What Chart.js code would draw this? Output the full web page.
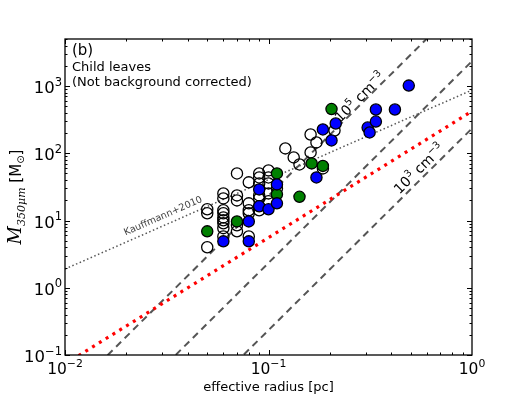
<!DOCTYPE html>
<html>
<head>
<meta charset="utf-8">
<script src="https://cdn.jsdelivr.net/npm/chart.js@4.4.0/dist/chart.umd.min.js"></script>
<style>
  html, body { margin: 0; padding: 0; background: #fff; }
</style>
</head>
<body>
<canvas id="chart" width="526" height="395"></canvas>
<script>
// all child leaves (open circles)
const openRadius = [0.05, 0.05, 0.05,
  0.06, 0.06, 0.06, 0.06, 0.06, 0.06, 0.06, 0.06, 0.06,
  0.07, 0.07, 0.07, 0.07, 0.07,
  0.08, 0.08, 0.08, 0.08, 0.08,
  0.09, 0.09, 0.09, 0.09, 0.09, 0.09,
  0.10, 0.10, 0.10, 0.10, 0.10,
  0.11, 0.121, 0.133, 0.142, 0.161, 0.161, 0.172, 0.185, 0.211];
const openMass = [14.7, 12.8, 4.0,
  25.3, 21.3, 14.2, 12.8, 11.1, 10.1, 9.1, 7.7, 5.8,
  50.1, 23.6, 19.9, 8.5, 6.9,
  36.9, 18.0, 14.2, 12.8, 5.8,
  50.1, 43.7, 35.6, 23.6, 21.3, 14.2,
  55.6, 43.7, 35.6, 25.3, 19.3,
  30.0, 118, 86.7, 68.2, 190, 103, 145, 59.5, 218];

// blue leaves
const blueRadius = [0.06, 0.08, 0.08, 0.09, 0.09, 0.10, 0.11, 0.11, 0.172,
  0.185, 0.204, 0.214, 0.307, 0.314, 0.337, 0.337, 0.418, 0.489];
const blueMass = [4.9, 9.7, 4.9, 29.0, 16.3, 14.7, 34.4, 18.0, 43.7,
  226, 155, 277, 241, 204, 296, 447, 447, 1014];

// green leaves
const greenRadius = [0.05, 0.07, 0.11, 0.11, 0.142, 0.163, 0.185, 0.204];
const greenMass = [6.9, 9.7, 50.1, 24.5, 22.5, 70.6, 64.8, 454];

// reference lines, values at the two ends of the x range
const lineRadius = [0.01, 1];
const dens5Mass = [0.0234, 23400];
const dens4Mass = [0.00234, 2340];
const dens3Mass = [0.000234, 234];
const kauffmannMass = [1.90, 870];
const thresholdMass = [0.0733, 422];

// axis ticks
const xTicks = [0.01, 0.1, 1];
const xTickExp = ["\u22122", "\u22121", "0"];
const yTicks = [0.1, 1, 10, 100, 1000];
const yTickExp = ["\u22121", "0", "1", "2", "3"];

const FONT = '"DejaVu Sans", "Bitstream Vera Sans", sans-serif';

const points = (xs, ys) => xs.map((x, i) => ({ x: x, y: ys[i] }));

const markerSet = (label, xs, ys, fill) => ({
  label: label,
  data: points(xs, ys),
  pointRadius: 5.6,
  pointBorderWidth: 1.3,
  pointBorderColor: "#000",
  pointBackgroundColor: fill,
  showLine: false
});

const lineSet = (label, ys, color, width, dash) => ({
  label: label,
  data: points(lineRadius, ys),
  showLine: true,
  borderColor: color,
  borderWidth: width,
  borderDash: dash,
  pointRadius: 0,
  clip: 0
});

function drawPower(ctx, x, y, base, sup, size, align) {
  const supSize = size * 0.7;
  ctx.font = size + "px " + FONT;
  const wb = ctx.measureText(base).width;
  ctx.font = supSize + "px " + FONT;
  const ws = ctx.measureText(sup).width;
  const total = wb + ws;
  let x0 = x - total / 2;
  if (align === "right") x0 = x - total;
  if (align === "left") x0 = x;
  ctx.textAlign = "left";
  ctx.textBaseline = "alphabetic";
  ctx.font = size + "px " + FONT;
  ctx.fillText(base, x0, y);
  ctx.font = supSize + "px " + FONT;
  ctx.fillText(sup, x0 + wb, y - size * 0.45);
  return total;
}

const axesPlugin = {
  id: "axesPlugin",
  afterDatasetsDraw(chart) {
    const ctx = chart.ctx;
    const { left, right, top, bottom } = chart.chartArea;
    const xs = chart.scales.x;
    const ys = chart.scales.y;
    ctx.save();

    // ticks, inward on all four sides
    ctx.strokeStyle = "#000";
    ctx.lineWidth = 1;
    ctx.beginPath();
    for (let d = -2; d < 0; d++) {
      for (let m = 1; m <= 9; m++) {
        const v = m * Math.pow(10, d);
        const px = Math.round(xs.getPixelForValue(v)) + 0.5;
        const len = m === 1 ? 5 : 2.5;
        ctx.moveTo(px, bottom); ctx.lineTo(px, bottom - len);
        ctx.moveTo(px, top); ctx.lineTo(px, top + len);
      }
    }
    for (let d = -1; d <= 3; d++) {
      for (let m = 1; m <= 9; m++) {
        const v = m * Math.pow(10, d);
        if (v > ys.max) break;
        const py = Math.round(ys.getPixelForValue(v)) + 0.5;
        const len = m === 1 ? 5 : 2.5;
        ctx.moveTo(left, py); ctx.lineTo(left + len, py);
        ctx.moveTo(right, py); ctx.lineTo(right - len, py);
      }
    }
    ctx.stroke();

    // frame
    ctx.lineWidth = 1.3;
    ctx.strokeRect(left, top, right - left, bottom - top);

    // tick labels
    ctx.fillStyle = "#000";
    xTicks.forEach((v, i) => {
      drawPower(ctx, xs.getPixelForValue(v), bottom + 19, "10", xTickExp[i], 15.5, "center");
    });
    yTicks.forEach((v, i) => {
      drawPower(ctx, left - 3, ys.getPixelForValue(v) + 7, "10", yTickExp[i], 16.5, "right");
    });

    // x axis title
    ctx.font = "13px " + FONT;
    ctx.textAlign = "center";
    ctx.textBaseline = "alphabetic";
    ctx.fillText("effective radius [pc]", (left + right) / 2, 391);

    // y axis title
    ctx.save();
    ctx.translate(21, (top + bottom) / 2);
    ctx.rotate(-Math.PI / 2);
    const parts = [
      { t: "M", f: "italic 18px \"DejaVu Serif\", serif", dy: 0 },
      { t: "350\u03bcm", f: "italic 11px \"DejaVu Serif\", serif", dy: 4 },
      { t: " [M", f: "15px " + FONT, dy: 0 },
      { t: "\u2299", f: "10px " + FONT, dy: 3 },
      { t: "]", f: "15px " + FONT, dy: 0 }
    ];
    let tw = 0;
    parts.forEach(p => { ctx.font = p.f; p.w = ctx.measureText(p.t).width; tw += p.w; });
    let cx = -tw / 2;
    ctx.textAlign = "left";
    parts.forEach(p => { ctx.font = p.f; ctx.fillText(p.t, cx, p.dy); cx += p.w; });
    ctx.restore();

    // panel text
    ctx.textAlign = "left";
    ctx.font = "15px " + FONT;
    ctx.fillText("(b)", left + 7, 55);
    ctx.font = "13px " + FONT;
    ctx.fillText("Child leaves", left + 7, 71);
    ctx.fillText("(Not background corrected)", left + 7, 86);

    // line labels
    const angleOf = (ysArr) => {
      const x0 = xs.getPixelForValue(lineRadius[0]), x1 = xs.getPixelForValue(lineRadius[1]);
      const y0 = ys.getPixelForValue(ysArr[0]), y1 = ys.getPixelForValue(ysArr[1]);
      return Math.atan2(y1 - y0, x1 - x0);
    };

    ctx.save();
    ctx.translate(xs.getPixelForValue(0.0304), ys.getPixelForValue(11.6));
    ctx.rotate(angleOf(kauffmannMass));
    ctx.fillStyle = "#444";
    ctx.font = "9.6px " + FONT;
    ctx.textAlign = "center";
    ctx.textBaseline = "middle";
    ctx.fillText("Kauffmann+2010", 0, 0);
    ctx.restore();

    const densLabel = (r, m, exp) => {
      ctx.save();
      ctx.translate(xs.getPixelForValue(r), ys.getPixelForValue(m));
      ctx.rotate(angleOf(dens5Mass));
      ctx.fillStyle = "#000";
      ctx.font = "14px " + FONT;
      const w1 = ctx.measureText("10").width;
      ctx.font = "9.8px " + FONT;
      const w2 = ctx.measureText(exp).width;
      ctx.font = "14px " + FONT;
      const w3 = ctx.measureText(" cm").width;
      ctx.font = "9.8px " + FONT;
      const w4 = ctx.measureText("\u22123").width;
      let px = -(w1 + w2 + w3 + w4) / 2;
      ctx.textAlign = "left";
      ctx.textBaseline = "alphabetic";
      ctx.font = "14px " + FONT;
      ctx.fillText("10", px, 5); px += w1;
      ctx.font = "9.8px " + FONT;
      ctx.fillText(exp, px, -1); px += w2;
      ctx.font = "14px " + FONT;
      ctx.fillText(" cm", px, 5); px += w3;
      ctx.font = "9.8px " + FONT;
      ctx.fillText("\u22123", px, -1);
      ctx.restore();
    };
    densLabel(0.28, 690, "5");
    densLabel(0.548, 59.4, "3");

    ctx.restore();
  }
};

new Chart(document.getElementById("chart"), {
  type: "scatter",
  data: {
    datasets: [
      markerSet("blue", blueRadius, blueMass, "#0000ff"),
      markerSet("green", greenRadius, greenMass, "#008000"),
      markerSet("all", openRadius, openMass, "rgba(255,255,255,0)"),
      lineSet("Kauffmann+2010", kauffmannMass, "#555", 1.5, [1.5, 2.5]),
      lineSet("threshold", thresholdMass, "#ff0000", 3.2, [3, 5]),
      lineSet("1e5", dens5Mass, "#555", 2, [7, 5]),
      lineSet("1e4", dens4Mass, "#555", 2, [7, 5]),
      lineSet("1e3", dens3Mass, "#555", 2, [7, 5])
    ]
  },
  options: {
    responsive: false,
    animation: false,
    layout: { padding: { left: 65, right: 54, top: 39, bottom: 40 } },
    plugins: {
      legend: { display: false },
      tooltip: { enabled: false }
    },
    scales: {
      x: { type: "logarithmic", min: 0.01, max: 1, display: false },
      y: { type: "logarithmic", min: 0.1, max: 5000, display: false }
    }
  },
  plugins: [axesPlugin]
});
</script>
</body>
</html>
